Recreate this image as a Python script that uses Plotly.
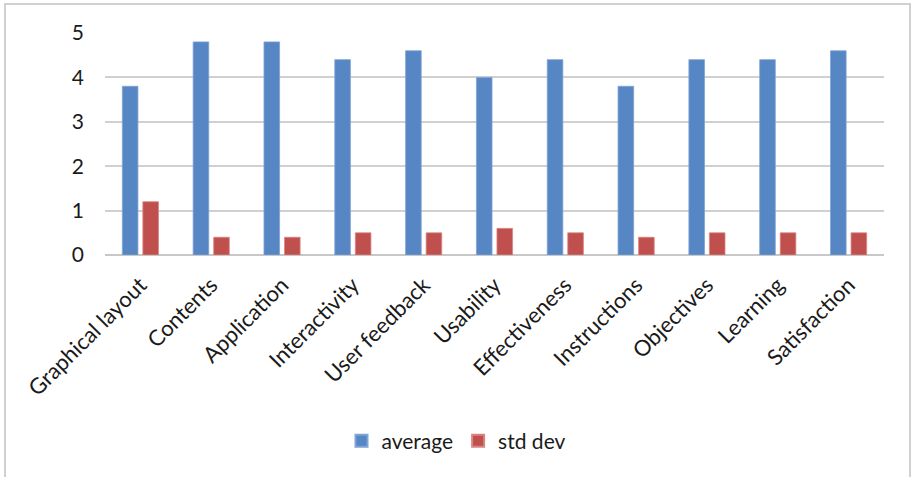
import plotly.graph_objects as go

categories = ["Graphical layout", "Contents", "Application", "Interactivity", "User feedback",
              "Usability", "Effectiveness", "Instructions", "Objectives", "Learning", "Satisfaction"]
average = [3.8, 4.8, 4.8, 4.4, 4.6, 4.0, 4.4, 3.8, 4.4, 4.4, 4.6]
std_dev = [1.2, 0.4, 0.4, 0.5, 0.5, 0.6, 0.5, 0.4, 0.5, 0.5, 0.5]
y_ticks = [0, 1, 2, 3, 4, 5]

FONT = "Lato, Carlito, Calibri, sans-serif"

fig = go.Figure()
fig.add_trace(go.Bar(x=categories, y=average, name="average",
                     marker=dict(color="#5686C4", line=dict(color="#7fa3d4", width=0.8))))
fig.add_trace(go.Bar(x=categories, y=std_dev, name="std dev",
                     marker=dict(color="#C0504D", line=dict(color="#d88583", width=0.8))))

L, R, T, B = 105, 28, 33, 222
W, H = 912, 477
pw, ph = W - L - R, H - T - B

def px2paper_x(px):
    return (px - L) / pw

def px2paper_y(py):
    return (H - B - py) / ph

fig.update_layout(
    width=W, height=H,
    margin=dict(l=L, r=R, t=T, b=B, autoexpand=False),
    paper_bgcolor="white", plot_bgcolor="white",
    barmode="group", bargap=0.42, bargroupgap=0.24,
    font=dict(family=FONT, size=21, color="#1a1a1a"),
    showlegend=True,
    legend=dict(orientation="h", x=px2paper_x(456), xanchor="center",
                y=px2paper_y(441), yanchor="middle",
                font=dict(family=FONT, size=21, color="#1a1a1a"),
                itemsizing="constant", itemwidth=30, traceorder="normal"),
    xaxis=dict(tickangle=-45, showgrid=False, showline=False, ticks="",
               ticklabelstandoff=12,
               tickfont=dict(family=FONT, size=22, color="#1a1a1a"),
               fixedrange=True),
    yaxis=dict(range=[0, 5], tickvals=y_ticks, showgrid=True, gridcolor="#d0d0d0",
               gridwidth=1.5, zeroline=True, zerolinecolor="#c8c8c8", zerolinewidth=1.5,
               showline=False, ticks="", ticklabelstandoff=20,
               tickfont=dict(family=FONT, size=21, color="#1a1a1a")),
    shapes=[dict(type="rect", xref="paper", yref="paper",
                 x0=px2paper_x(5), x1=px2paper_x(910),
                 y0=px2paper_y(485), y1=px2paper_y(4),
                 line=dict(color="#d0d0d0", width=2), fillcolor="rgba(0,0,0,0)",
                 layer="below")],
)

fig.write_html("out.html")
